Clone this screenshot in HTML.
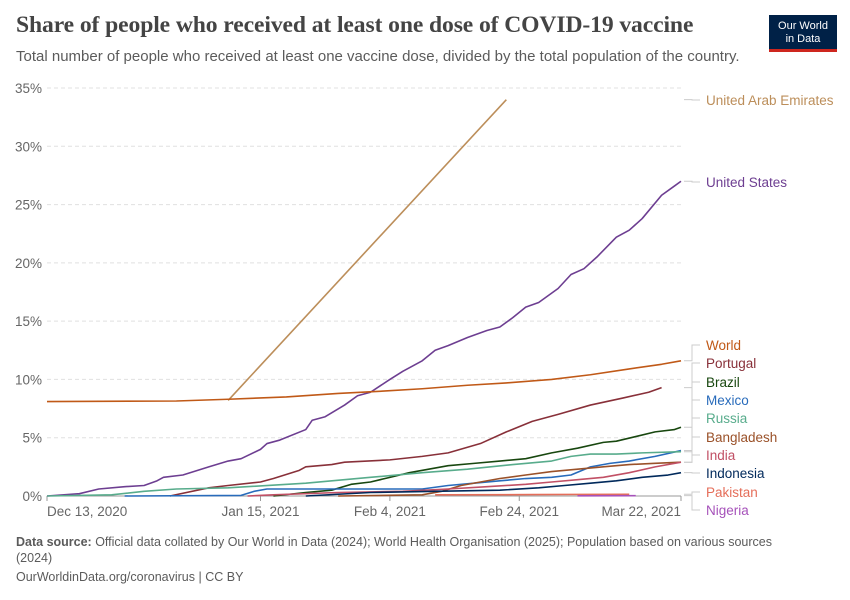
<!DOCTYPE html>
<html><head><meta charset="utf-8"><style>
body{margin:0;width:850px;height:600px;background:#fff;font-family:"Liberation Sans",sans-serif;overflow:hidden;position:relative}
.title{position:absolute;left:16px;top:12px;font-family:"Liberation Serif",serif;font-size:23.6px;color:#444;font-weight:bold;letter-spacing:-0.1px}
.sub{position:absolute;left:16px;top:48px;font-size:15px;color:#5b5b5b}
.logo{position:absolute;left:769px;top:15px;width:68px;height:37px;background:#002147;border-bottom:3px solid #ce261e;color:#fff;font-size:11px;line-height:13px;text-align:center;box-sizing:border-box;padding-top:5px}
.foot{position:absolute;left:16px;font-size:12.5px;color:#5b5b5b}
</style></head><body>
<div class="title">Share of people who received at least one dose of COVID-19 vaccine</div>
<div class="sub">Total number of people who received at least one vaccine dose, divided by the total population of the country.</div>
<div class="logo">Our World<br>in Data</div>
<svg id="chart" width="850" height="600" style="position:absolute;left:0;top:0"></svg>
<div class="foot" style="top:534px;width:790px;line-height:16px"><b>Data source:</b> Official data collated by Our World in Data (2024); World Health Organisation (2025); Population based on various sources (2024)</div>
<div class="foot" style="top:570px">OurWorldinData.org/coronavirus | CC BY</div>
<script>
const yTicks=[0,5,10,15,20,25,30,35];
const xTickDays=[0,33,53,73,98];
const xTickLabels=["Dec 13, 2020","Jan 15, 2021","Feb 4, 2021","Feb 24, 2021","Mar 22, 2021"];
const seriesNames=["United Arab Emirates","United States","World","Portugal","Brazil","Mexico","Russia","Bangladesh","India","Indonesia","Pakistan","Nigeria"];
const seriesColors=["#bc8e5a","#6d3e91","#c05917","#883039","#18470f","#286bbb","#58ac8c","#9a5129","#c15065","#00295b","#e56e5a","#a652ba"];
const labelY=[100,182,345,363,382,400,418,437,455,473,492,510];
const uaeDays=[28,71];const uaeVals=[8.2,34.0];
const usDays=[0,5,8,12,15,17,18,21,25,28,30,33,34,36,40,41,43,46,48,50,53,55,58,60,62,65,68,70,72,74,76,79,81,83,85,88,90,92,95,97,98];
const usVals=[0,0.2,0.6,0.8,0.9,1.3,1.6,1.8,2.5,3.0,3.2,4.0,4.5,4.8,5.7,6.5,6.8,7.8,8.6,8.9,10.0,10.7,11.6,12.5,12.9,13.6,14.2,14.5,15.3,16.2,16.6,17.8,19.0,19.5,20.5,22.2,22.8,23.8,25.8,26.6,27.0];
const worldDays=[0,20,28,37,45,52,58,65,71,78,84,90,95,98];
const worldVals=[8.1,8.15,8.3,8.5,8.8,9.0,9.2,9.5,9.7,10.0,10.4,10.9,11.3,11.6];
const portugalDays=[19,25,28,33,35,39,40,44,46,53,58,62,67,71,75,79,84,89,93,95];
const portugalVals=[0,0.7,0.9,1.2,1.5,2.2,2.5,2.7,2.9,3.1,3.4,3.7,4.5,5.5,6.4,7.0,7.8,8.4,8.9,9.3];
const brazilDays=[35,40,44,47,50,53,56,59,62,66,70,74,78,82,86,88,91,94,97,98];
const brazilVals=[0,0.3,0.5,1.0,1.2,1.6,2.0,2.3,2.6,2.8,3.0,3.2,3.7,4.1,4.6,4.7,5.1,5.5,5.7,5.9];
const mexicoDays=[12,30,32,34,40,50,58,62,66,70,74,78,81,84,87,90,94,98];
const mexicoVals=[0,0.05,0.4,0.6,0.6,0.6,0.6,0.9,1.1,1.3,1.5,1.6,1.8,2.5,2.8,3.0,3.4,3.9];
const russiaDays=[0,10,15,20,28,40,50,58,65,72,78,81,84,88,92,98];
const russiaVals=[0,0.1,0.4,0.6,0.7,1.1,1.6,2.0,2.3,2.7,3.0,3.4,3.6,3.6,3.7,3.8];
const bangladeshDays=[45,58,61,64,67,70,74,78,82,86,90,94,98];
const bangladeshVals=[0,0.1,0.4,0.9,1.2,1.5,1.8,2.1,2.3,2.5,2.7,2.8,2.9];
const indiaDays=[31,35,45,55,62,68,74,78,82,86,90,94,98];
const indiaVals=[0,0.1,0.3,0.4,0.6,0.8,1.0,1.2,1.4,1.6,2.0,2.5,2.9];
const indonesiaDays=[40,50,60,70,76,80,84,88,92,96,98];
const indonesiaVals=[0,0.3,0.4,0.5,0.7,0.9,1.1,1.3,1.6,1.8,2.0];
const pakistanDays=[60,75,90];const pakistanVals=[0.1,0.12,0.15];
const nigeriaDays=[82,91];const nigeriaVals=[0.02,0.03];
const allDays=[uaeDays,usDays,worldDays,portugalDays,brazilDays,mexicoDays,russiaDays,bangladeshDays,indiaDays,indonesiaDays,pakistanDays,nigeriaDays];
const allVals=[uaeVals,usVals,worldVals,portugalVals,brazilVals,mexicoVals,russiaVals,bangladeshVals,indiaVals,indonesiaVals,pakistanVals,nigeriaVals];

const L=47,R=681,T=88,B=496,maxDay=98,maxY=35;
const xs=d=>L+d*(R-L)/maxDay, ys=v=>B-v*(B-T)/maxY;
const svg=document.getElementById('chart'),NS="http://www.w3.org/2000/svg";
function mk(t,a,p){const e=document.createElementNS(NS,t);for(const k in a)e.setAttribute(k,a[k]);(p||svg).appendChild(e);return e;}
yTicks.forEach(v=>{
  const g=mk('line',{x1:L,x2:R,y1:ys(v),y2:ys(v),stroke:v==0?'#999':'#e0e0e0','stroke-dasharray':v==0?'':'4,3'});
  
  
  const t=mk('text',{x:42,y:ys(v)+5,'text-anchor':'end','font-size':13.5,fill:'#666','font-family':'Liberation Sans'});
  t.textContent=v+'%';
  
  
});
xTickDays.forEach((d,i)=>{
  const tk=mk('line',{x1:xs(d),x2:xs(d),y1:B,y2:B+5,stroke:'#999'});
  
  
  const anc=i==0?'start':(i==xTickDays.length-1?'end':'middle');
  const t=mk('text',{x:xs(d),y:B+20,'text-anchor':anc,'font-size':13.5,fill:'#666','font-family':'Liberation Sans'});
  t.textContent=xTickLabels[i];
  
  
});
allDays.forEach((ds,i)=>{
  const pts=ds.map((d,j)=>xs(d)+','+ys(allVals[i][j])).join(' ');
  const p=mk('polyline',{points:pts,fill:'none',stroke:seriesColors[i],'stroke-width':1.6,'stroke-linejoin':'round'});
  
  
  const last=ds.length-1, ly=ys(allVals[i][last]);
  const c=mk('polyline',{points:`${684},${ly} ${692},${ly} ${692},${labelY[i]} ${700},${labelY[i]}`,fill:'none',stroke:'#ccc','stroke-width':1});
  
  
  const t=mk('text',{x:706,y:labelY[i]+5,'font-size':13.5,fill:seriesColors[i],'font-family':'Liberation Sans'});
  t.textContent=seriesNames[i];
  
  
});
</script>
</body></html>
